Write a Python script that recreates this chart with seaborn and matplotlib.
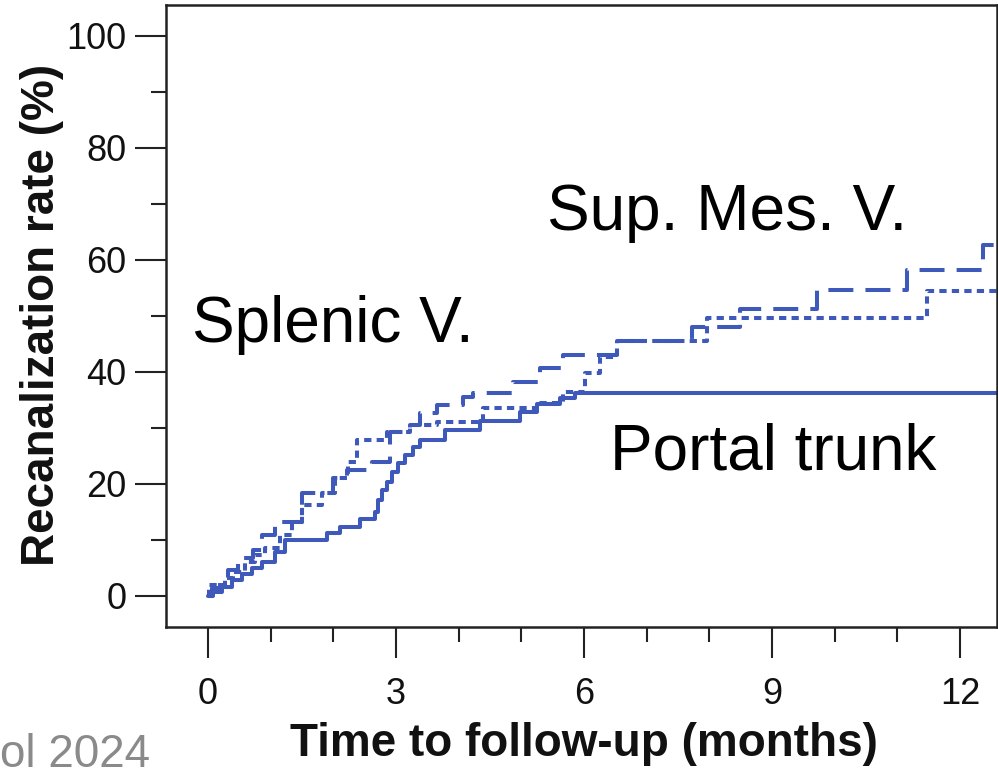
import numpy as np
import pandas as pd
import matplotlib
matplotlib.use("Agg")
import matplotlib.pyplot as plt
import seaborn as sns
from matplotlib.ticker import MultipleLocator

# ---- data (months, cumulative recanalization %) ----
portal_t = [0, 0.08, 0.22, 0.38, 0.54, 0.70, 0.86, 1.07, 1.23, 1.90, 2.11, 2.43, 2.66,
            2.71, 2.78, 2.86, 2.94, 3.03, 3.14, 3.27, 3.38, 3.78, 4.34, 4.98, 5.25, 5.62, 5.86]
portal_p = [0, 0.7, 1.6, 2.9, 3.9, 5.0, 6.1, 7.9, 10.0, 11.3, 12.3, 13.8, 15.0,
            17.1, 18.9, 20.4, 22.1, 23.8, 25.2, 26.6, 27.9, 29.6, 31.3, 32.9, 34.3, 35.4, 36.3]

splenic_t = [0, 0.02, 0.27, 0.40, 0.59, 0.75, 0.91, 1.15, 1.34, 1.50, 1.82, 2.03, 2.23, 2.38,
             2.86, 3.22, 3.65, 4.39, 5.25, 5.66, 6.02, 6.25, 6.53, 7.96, 11.47]
splenic_p = [0, 2.0, 3.2, 4.3, 6.1, 7.3, 8.6, 10.9, 13.2, 16.3, 18.4, 21.1, 23.9, 27.9,
             29.3, 30.5, 31.1, 33.6, 34.5, 36.4, 39.8, 42.7, 45.5, 49.6, 54.5]

smv_t = [0, 0.06, 0.19, 0.32, 0.48, 0.72, 0.86, 1.07, 1.50, 1.99, 2.22, 2.62, 2.90, 3.22,
         3.38, 3.65, 4.07, 4.23, 4.87, 5.30, 5.66, 6.53, 7.72, 8.49, 9.72, 11.15, 12.37]
smv_p = [0, 1.4, 3.2, 4.6, 6.8, 8.2, 10.9, 13.2, 18.4, 21.1, 22.5, 23.9, 29.3, 30.5,
         32.7, 34.1, 35.5, 36.3, 38.2, 40.7, 43.0, 45.5, 48.0, 51.2, 54.6, 58.2, 62.7]

follow_up_end = 12.7
series_names = ["Portal trunk", "Splenic V.", "Sup. Mes. V."]

x_ticks = [0, 3, 6, 9, 12]
y_ticks = [0, 20, 40, 60, 80, 100]

BLUE = "#3f59bb"

frames = []
for name, t, p in zip(series_names, [portal_t, splenic_t, smv_t],
                      [portal_p, splenic_p, smv_p]):
    tt = list(t) + [follow_up_end]
    pp = list(p) + [p[-1]]
    frames.append(pd.DataFrame({"time": tt, "rate": pp, "vessel": name}))
df = pd.concat(frames, ignore_index=True)

sns.set_style("white")
plt.rcParams["font.family"] = ["Liberation Sans", "DejaVu Sans"]

W, H = 998, 770
fig = plt.figure(figsize=(W / 100, H / 100), dpi=100)
L, R, T, B = 166, 997, 5, 627
ax = fig.add_axes([L / W, 1 - B / H, (R - L) / W, (B - T) / H])

sns.lineplot(data=df, x="time", y="rate", hue="vessel", style="vessel",
             palette={n: BLUE for n in series_names},
             dashes={"Portal trunk": "", "Splenic V.": (1.8, 1.3), "Sup. Mes. V.": (6.2, 3.0)},
             drawstyle="steps-post", lw=2.9, estimator=None, sort=False,
             legend=False, ax=ax)

ax.set_xlim(-0.67, 12.59)
ax.set_ylim(-5.54, 105.5)
ax.set_xticks(x_ticks)
ax.set_yticks(y_ticks)
ax.xaxis.set_minor_locator(MultipleLocator(1))
ax.yaxis.set_minor_locator(MultipleLocator(10))
ax.tick_params(which="both", bottom=True, left=True, top=False, right=False)
ax.tick_params(which="major", length=22.5, width=1.5, color="#222222",
               labelsize=26, labelcolor="#111111", direction="out")
ax.tick_params(axis="x", which="major", pad=13.5)
ax.tick_params(axis="y", which="major", pad=6)
ax.tick_params(which="minor", length=10.5, width=1.5, color="#222222", direction="out")

for s in ax.spines.values():
    s.set_visible(True)
    s.set_linewidth(1.8)
    s.set_color("#222222")

ax.set_xlabel("Time to follow-up (months)", fontsize=33, fontweight="bold", color="#111111")
ax.set_ylabel("Recanalization rate (%)", fontsize=33, fontweight="bold", color="#111111")
ax.xaxis.set_label_coords((584 - L) / (R - L), (B - 722) / (B - T))
ax.yaxis.set_label_coords((64 - L) / (R - L), (B - 315) / (B - T))

ax.text(5.41, 65.4, "Sup. Mes. V.", fontsize=46, color="black", ha="left", va="baseline")
ax.text(-0.26, 45.4, "Splenic V.", fontsize=46, color="black", ha="left", va="baseline")
ax.text(6.41, 22.5, "Portal trunk", fontsize=46, color="black", ha="left", va="baseline")

fig.text(0.0, 3 / H, "ol 2024", fontsize=33, color="#8a8a8a", ha="left", va="baseline")

fig.savefig("out.png", dpi=100)
